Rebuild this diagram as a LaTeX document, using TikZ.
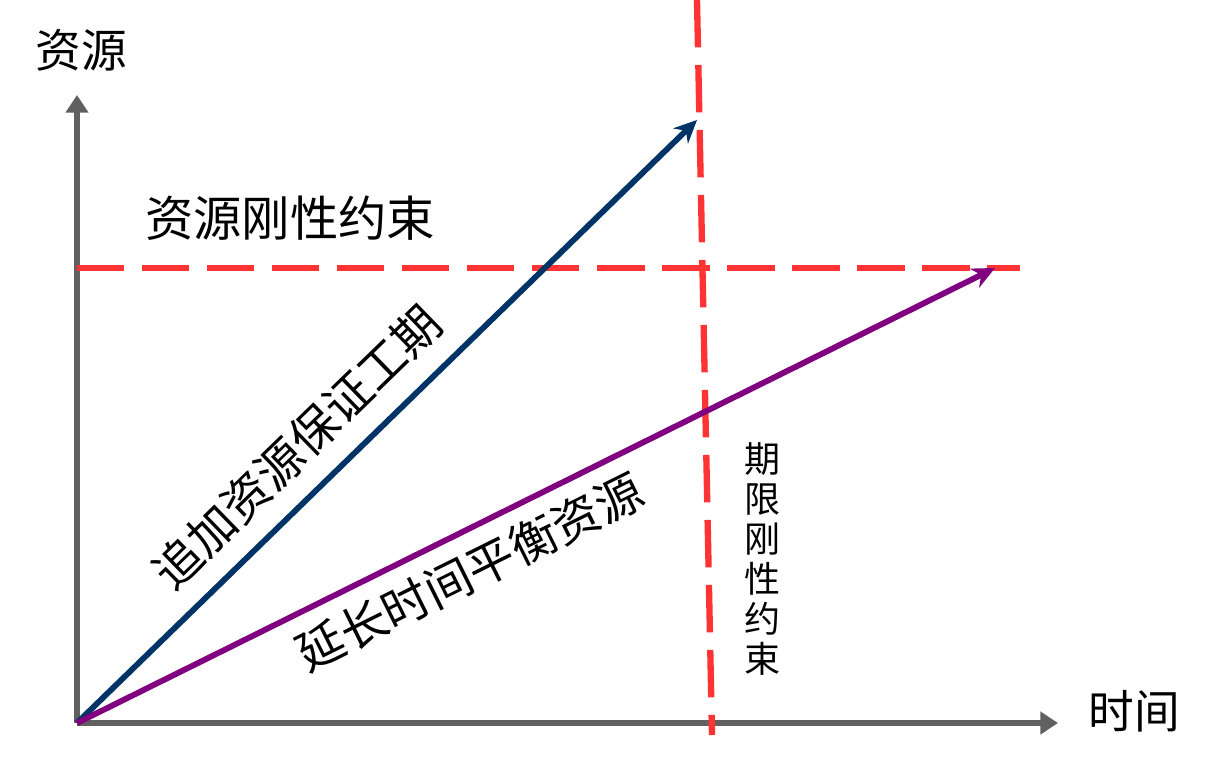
\documentclass[tikz,border=0pt]{standalone}
\usepackage{fontspec}
\setmainfont{Noto Sans CJK SC}
\definecolor{axisgray}{HTML}{606060}
\definecolor{limitred}{HTML}{FF3333}
\definecolor{navyline}{HTML}{003366}
\definecolor{purpline}{HTML}{800080}
\usetikzlibrary{calc, positioning, arrows.meta}

\begin{document}
\begin{tikzpicture}[x=0.02cm, y=-0.02cm,
  axis/.style={draw=axisgray, line width=3.3pt, -{Triangle[length=10pt, width=12.5pt]}},
  limit/.style={draw=limitred, line width=3.6pt, dash pattern=on 27pt off 10pt},
  path/.style={line width=3.3pt, -{Stealth[length=13pt, width=12pt]}},
  axlabel/.style={font=\fontsize{26}{30}\selectfont, inner sep=0pt},
  plabel/.style={font=\fontsize{27}{30}\selectfont, inner sep=0pt},
]
\useasboundingbox (0,0) rectangle (1220,767);

% axes
\coordinate (O) at (77,723);
\coordinate (ytop) at (77,95);
\coordinate (xend) at (1058,723);
\draw[axis] (O) -- (ytop);
\draw[axis] (O) -- (xend);
\node[axlabel] (res) at (81,50) {资源};
\node[axlabel] (time) at (1134,711) {时间};

% constraints
\coordinate (hl) at (77,268);
\coordinate (hr) at (1020,268);
\coordinate (vt) at (697,0);
\coordinate (vb) at (712,735);
\draw[limit] (hl) -- (hr);
\draw[limit] (vt) -- (vb);
\node[plabel, font=\fontsize{27.5}{30}\selectfont] (rc) at (290,218) {资源刚性约束};
\node[plabel, font=\fontsize{20.5}{22.7}\selectfont, align=center] (tc) at (762,559)
  {期\\限\\刚\\性\\约\\束};

% two ways
\coordinate (bt) at (697,120);
\coordinate (pt) at (995,268);
\draw[path, navyline] (O) -- (bt);
\draw[path, purpline] (O) -- (pt);
\node[plabel, rotate=44.2] (add) at (297,447) {追加资源保证工期};
\node[plabel, rotate=26.4] (ext) at (470,572) {延长时间平衡资源};
\end{tikzpicture}
\end{document}
